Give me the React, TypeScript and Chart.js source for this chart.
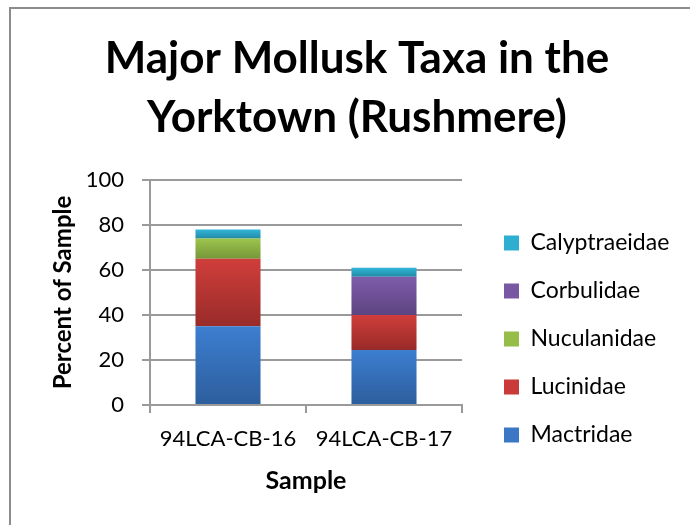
import React, { useEffect, useRef } from 'react';
import { Chart, registerables } from 'chart.js';

Chart.register(...registerables);

const TITLE_LINES = ['Major Mollusk Taxa in the', 'Yorktown (Rushmere)'];
const X_TITLE = 'Sample';
const Y_TITLE = 'Percent of Sample';
const CATEGORIES = ['94LCA-CB-16', '94LCA-CB-17'];
const SERIES_NAMES = ['Mactridae', 'Lucinidae', 'Nuculanidae', 'Corbulidae', 'Calyptraeidae'];
const MACTRIDAE = [35, 24.5];
const LUCINIDAE = [30, 15.5];
const NUCULANIDAE = [9, 0];
const CORBULIDAE = [0, 17];
const CALYPTRAEIDAE = [4, 4];
const SERIES_VALUES = [MACTRIDAE, LUCINIDAE, NUCULANIDAE, CORBULIDAE, CALYPTRAEIDAE];
const Y_TICKS = [0, 20, 40, 60, 80, 100];

const COLORS_TOP = ['#3d7ed0', '#d03e3b', '#9dc54c', '#7e5caa', '#31b6da'];
const COLORS_LEGEND = ['#3a78c6', '#c93b38', '#96bd48', '#7858a3', '#2eaed1'];
const COLORS_BOTTOM = ['#2c5e9c', '#982b29', '#76963a', '#5d4481', '#238aa4'];

const GRID = '#9a9a9a';
const FONT = 'Lato';

const makeBg = (di: number) => (ctx: any) => {
  if (ctx.type !== 'data') return COLORS_LEGEND[di];
  const chart = ctx.chart;
  const y = chart.scales && chart.scales.y;
  if (!y || !chart.chartArea) return COLORS_LEGEND[di];
  const i = ctx.dataIndex;
  let base = 0;
  for (let k = 0; k < di; k++) base += SERIES_VALUES[k][i];
  const v = SERIES_VALUES[di][i];
  const y0 = y.getPixelForValue(base + v);
  const y1 = y.getPixelForValue(base);
  if (Math.abs(y1 - y0) < 1) return COLORS_LEGEND[di];
  const g = chart.ctx.createLinearGradient(0, y0, 0, y1);
  g.addColorStop(0, COLORS_TOP[di]);
  g.addColorStop(1, COLORS_BOTTOM[di]);
  return g;
};

const placePlugin = {
  id: 'placeBlocks',
  afterLayout(chart: any) {
    const ca = chart.chartArea;
    const lg = chart.legend;
    if (lg) {
      const w = lg.width;
      const h = lg.height;
      lg.left = ca.right + 17;
      lg.right = lg.left + w;
      lg.top = ca.top + 26.5;
      lg.bottom = lg.top + h;
    }
    const tb = chart.titleBlock;
    if (tb) {
      tb.left = 24;
      tb.right = chart.width;
      tb.width = tb.right - tb.left;
    }
  },
};

export default function App() {
  const ref = useRef<HTMLCanvasElement | null>(null);

  useEffect(() => {
    if (!ref.current) return;
    const baseGen = (Chart as any).defaults.plugins.legend.labels.generateLabels;
    const chart = new Chart(ref.current, {
      type: 'bar',
      data: {
        labels: CATEGORIES,
        datasets: SERIES_NAMES.map((name, di) => ({
          label: name,
          data: SERIES_VALUES[di],
          backgroundColor: makeBg(di),
          borderWidth: 0,
          barPercentage: 0.417,
          categoryPercentage: 1,
        })),
      },
      options: {
        responsive: false,
        animation: false,
        events: [],
        layout: { padding: { left: 0, right: 38, top: 0, bottom: 0 } },
        plugins: {
          tooltip: { enabled: false },
          title: {
            display: true,
            text: TITLE_LINES,
            color: '#000',
            font: { family: FONT, size: 44, weight: 'bold', lineHeight: 59 / 44 },
            padding: { top: 29, bottom: 33 },
          },
          legend: {
            display: true,
            position: 'right',
            align: 'start',
            reverse: true,
            maxWidth: 190,
            labels: {
              color: '#000',
              font: { family: FONT, size: 23 },
              boxWidth: 15,
              boxHeight: 15,
              padding: 25,
              generateLabels: (c: any) =>
                baseGen(c).map((item: any) => ({
                  ...item,
                  fillStyle: COLORS_LEGEND[item.datasetIndex],
                  strokeStyle: COLORS_LEGEND[item.datasetIndex],
                  lineWidth: 0,
                })),
            },
          },
        },
        scales: {
          x: {
            stacked: true,
            afterFit: (s: any) => {
              s.height = 120;
            },
            grid: {
              display: true,
              drawOnChartArea: false,
              drawTicks: true,
              tickLength: 8,
              color: GRID,
              lineWidth: 2,
              offset: true,
            },
            border: { display: true, color: GRID, width: 2 },
            ticks: { color: '#000', font: { family: FONT, size: 22 }, padding: 13, maxRotation: 0 },
            title: {
              display: true,
              text: X_TITLE,
              color: '#000',
              font: { family: FONT, size: 25, weight: 'bold' },
              padding: { top: 0, bottom: 29 },
            },
          },
          y: {
            stacked: true,
            min: Y_TICKS[0],
            max: Y_TICKS[Y_TICKS.length - 1],
            afterFit: (s: any) => {
              s.width = 150;
            },
            afterBuildTicks: (s: any) => {
              s.ticks = Y_TICKS.map((v) => ({ value: v }));
            },
            grid: {
              display: true,
              drawTicks: true,
              tickLength: 8,
              color: GRID,
              lineWidth: 2,
            },
            border: { display: true, color: GRID, width: 2 },
            ticks: { color: '#000', font: { family: FONT, size: 22 }, padding: 18 },
            title: {
              display: true,
              text: Y_TITLE,
              color: '#000',
              font: { family: FONT, size: 24, weight: 'bold' },
              padding: { top: 49, bottom: 0 },
            },
          },
        },
      },
      plugins: [placePlugin],
    } as any);
    return () => chart.destroy();
  }, []);

  return (
    <div
      style={{
        position: 'fixed',
        left: 0,
        top: 0,
        width: 690,
        height: 525,
        overflow: 'hidden',
        background: '#fff',
      }}
    >
      <div
        style={{
          position: 'absolute',
          left: 9,
          top: 7,
          width: 760,
          height: 600,
          border: '2px solid #8c8c8c',
        }}
      />
      <canvas
        ref={ref}
        width={690}
        height={525}
        style={{ position: 'absolute', left: 0, top: 0, width: 690, height: 525 }}
      />
    </div>
  );
}
